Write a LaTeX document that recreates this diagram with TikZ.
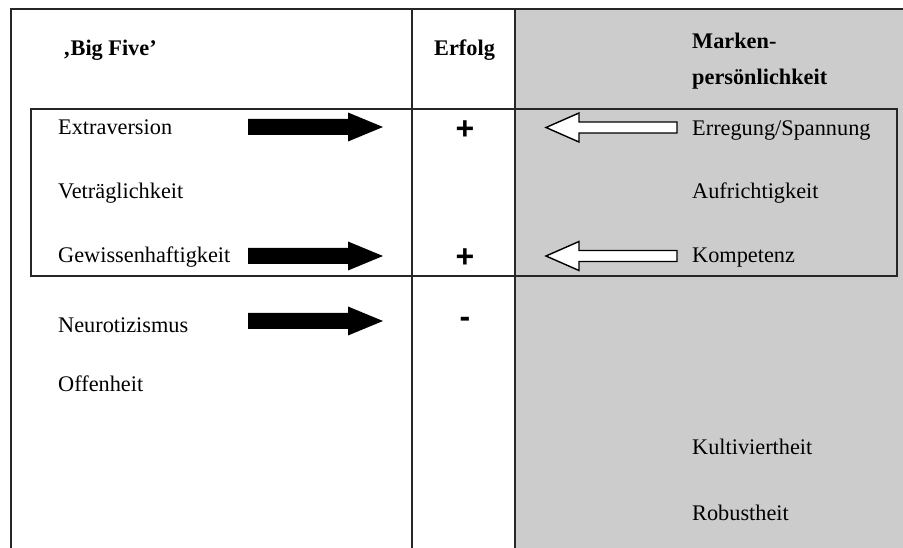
\documentclass[tikz,border=0pt]{standalone}
\usepackage{fontspec}
\setmainfont{Liberation Serif}
\newfontfamily\signfont{Liberation Sans}
\definecolor{panel}{RGB}{204,204,204}
\begin{document}
\begin{tikzpicture}[x=1pt,y=-1pt,
  txt/.style={anchor=base west, inner sep=0pt, font=\fontsize{22.3}{26}\selectfont},
  hdr/.style={anchor=base west, inner sep=0pt, font=\fontsize{22.3}{26}\selectfont\bfseries},
  sign/.style={anchor=base, inner sep=0pt, font=\fontsize{32}{36}\selectfont\signfont\bfseries},
  frame/.style={line width=1.8pt, draw=black!85},
  solidarrow/.pic={\fill[black] (0,-8) -- (100,-8) -- (100,-14.5) -- (135,0) -- (100,14.5) -- (100,8) -- (0,8) -- cycle;},
  hollowarrow/.pic={\filldraw[fill=white, draw=black, line width=1.4pt, line join=miter] (0,-5.5) -- (-98,-5.5) -- (-98,-14.5) -- (-131,0) -- (-98,14.5) -- (-98,5.5) -- (0,5.5) -- cycle;}
]
\useasboundingbox (0,0) rectangle (903,548);
\fill[white] (0,0) rectangle (903,548);
% grey panel
\fill[panel] (515,9) rectangle (903,548);
% frame lines
\draw[frame] (11,548) -- (11,9) -- (903,9);
\draw[frame] (412,9) -- (412,548);
\draw[frame] (515,9) -- (515,548);
\draw[frame] (31,109) rectangle (897,276);

% headers
\node[hdr] (h1) at (63,56) {‚Big Five’};
\node[hdr] (h2) at (434,56) {Erfolg};
\node[hdr] (h3) at (692,49) {Marken-};
\node[hdr] (h4) at (692,85) {persönlichkeit};

% left column
\node[txt] (l1) at (58,135) {Extraversion};
\node[txt] (l2) at (58,199) {Veträglichkeit};
\node[txt] (l3) at (58,263) {Gewissenhaftigkeit};
\node[txt] (l4) at (58,332) {Neurotizismus};
\node[txt] (l5) at (58,391) {Offenheit};

% right column
\node[txt] (r1) at (692,136) {Erregung/Spannung};
\node[txt] (r2) at (692,199) {Aufrichtigkeit};
\node[txt] (r3) at (692,263) {Kompetenz};
\node[txt] (r4) at (692,454) {Kultiviertheit};
\node[txt] (r5) at (692,520) {Robustheit};

% signs
\node[sign] (s1) at (465,140) {+};
\node[sign] (s2) at (465,268) {+};
\node[sign] (s3) at (465,327) {-};

% arrows
\pic at (248,127) {solidarrow};
\pic at (248,256) {solidarrow};
\pic at (248,321) {solidarrow};
\pic at (677,127.5) {hollowarrow};
\pic at (677,256) {hollowarrow};
\end{tikzpicture}
\end{document}
